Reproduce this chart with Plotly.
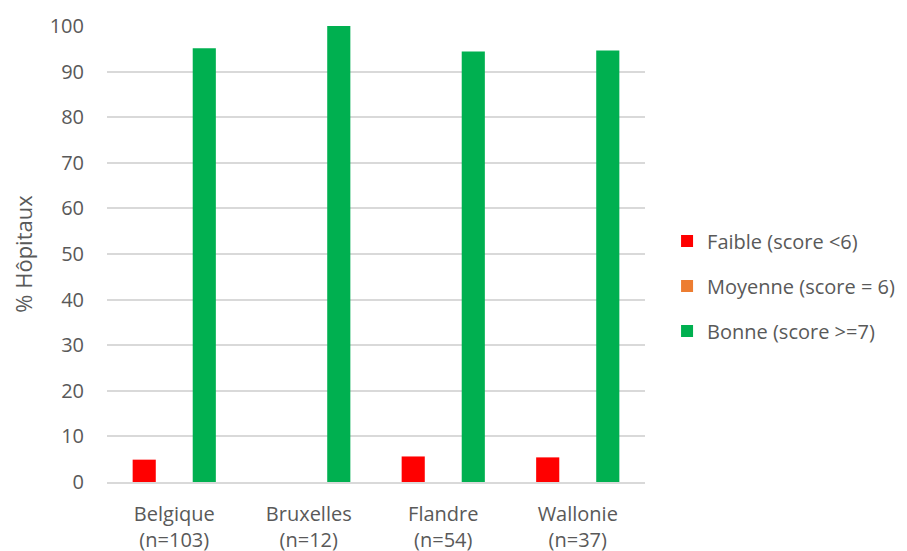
import plotly.graph_objects as go

categories = ["Belgique<br>(n=103)", "Bruxelles<br>(n=12)", "Flandre<br>(n=54)", "Wallonie<br>(n=37)"]
faible = [4.9, 0.0, 5.6, 5.4]
moyenne = [0.0, 0.0, 0.0, 0.0]
bonne = [95.1, 100.0, 94.4, 94.6]
series_names = ["Faible (score <6)", "Moyenne (score = 6)", "Bonne (score >=7)"]
colors = ["#FF0000", "#ED7D31", "#00B050"]
y_ticks = list(range(0, 101, 10))

fig = go.Figure()
for i, (name, vals, col) in enumerate(zip(series_names, [faible, moyenne, bonne], colors)):
    fig.add_trace(go.Bar(x=categories, y=vals, name=name, marker_color=col,
                         marker_line_width=0, legendgroup=f"g{i}"))

font_fam = "Open Sans, Noto Sans, sans-serif"
fig.update_layout(
    width=907, height=551,
    margin=dict(l=99, r=270, t=18, b=77, autoexpand=False),
    paper_bgcolor="white", plot_bgcolor="white",
    barmode="group", bargap=0.33, bargroupgap=0.23,
    font=dict(family=font_fam, size=20, color="#595959"),
    legend=dict(x=1.041, y=0.43, xanchor="left", yanchor="middle",
                font=dict(size=20, color="#595959"), tracegroupgap=16,
                itemwidth=30),
    showlegend=True,
)
fig.update_yaxes(range=[0, 100], tickvals=y_ticks, showgrid=True, gridcolor="#D9D9D9",
                 gridwidth=1.5, zeroline=False, showline=False, ticks="",
                 ticklabelstandoff=22, automargin=False,
                 tickfont=dict(size=20, color="#595959"),
                 title=dict(text="% Hôpitaux", font=dict(size=22, color="#595959"), standoff=12))
fig.update_xaxes(showline=True, linecolor="#D9D9D9", linewidth=1.5, ticks="",
                 ticklabelstandoff=13, automargin=False,
                 tickfont=dict(size=20, color="#595959"))

fig.write_html("out.html")
